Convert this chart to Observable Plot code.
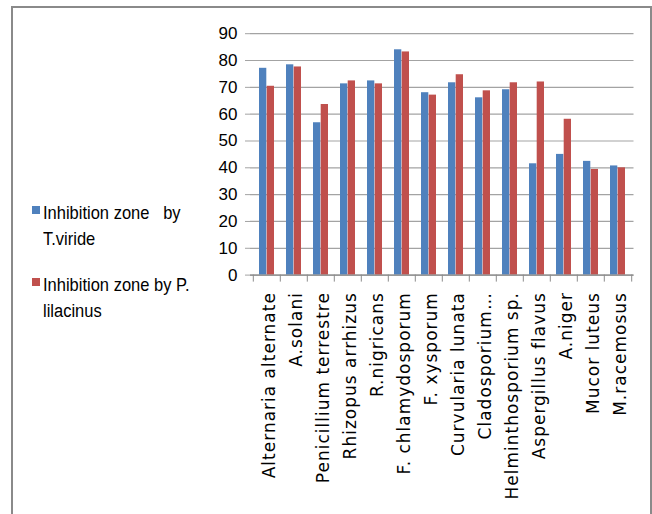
<!DOCTYPE html>
<html>
<head>
<meta charset="utf-8">
<script src="https://cdn.jsdelivr.net/npm/d3@7"></script>
<script src="https://cdn.jsdelivr.net/npm/@observablehq/plot@0.6"></script>
<style>
  body { margin: 0; background: #fff; }
  #wrap { position: relative; width: 652px; height: 514px; overflow: hidden; background: #fff; }
  #border { position: absolute; left: 11px; top: 6px; width: 637px; height: 530px;
            border: 2px solid #8a8a8a; border-bottom: none; pointer-events: none; }
  #chart { position: absolute; left: 0; top: 0; }
  #legend { position: absolute; left: 0; top: 0; font-family: "Liberation Sans", Arial, sans-serif;
            font-size: 16.5px; color: #000; }
  .item { position: absolute; left: 32px; }
  .sw { position: absolute; left: 0; top: 4.8px; width: 8px; height: 8px; }
  .lab { position: absolute; left: 11px; top: 0; white-space: pre; line-height: 23.2px;
         transform: scaleY(1.12); transform-origin: 0 17.3px; }
  svg [aria-label="x-axis tick label"] text { letter-spacing: 1px; }
</style>
</head>
<body>
<div id="wrap">
  <div id="chart"></div>
  <div id="legend"></div>
  <div id="border"></div>
</div>
<script>
// Fungal isolates tested
const categories = [
  "Alternaria alternate", "A.solani", "Penicillium terrestre", "Rhizopus arrhizus",
  "R.nigricans", "F. chlamydosporum", "F. xysporum", "Curvularia lunata",
  "Cladosporium…", "Helminthosporium sp.", "Aspergillus flavus", "A.niger",
  "Mucor luteus", "M.racemosus"
];
// Inhibition zone by T. viride
const viride = [77.1, 78.4, 56.8, 71.3, 72.4, 84.0, 68.0, 71.7, 66.1, 69.1, 41.5, 45.0, 42.4, 40.7];
// Inhibition zone by P. lilacinus
const lilacinus = [70.4, 77.6, 63.6, 72.4, 71.3, 83.2, 67.1, 74.7, 68.7, 71.7, 72.0, 58.1, 39.4, 40.0];
const seriesNames = ["Inhibition zone   by\nT.viride", "Inhibition zone by P.\nlilacinus"];
const seriesColors = ["#4f81bd", "#c0504d"];
const yTicks = [0, 10, 20, 30, 40, 50, 60, 70, 80, 90];

const W = 652, H = 514;
const mLeft = 250, mRight = 18.5, mTop = 33.2, mBottom = 239.4;
const step = (W - mLeft - mRight) / categories.length;

const rows = categories.flatMap((c, i) => [
  {category: c, series: seriesNames[0], value: viride[i]},
  {category: c, series: seriesNames[1], value: lilacinus[i]}
]);

const gridColor = "#a3a3a3";
const axisColor = "#8c8c8c";

const chart = Plot.plot({
  width: W,
  height: H,
  marginLeft: mLeft,
  marginRight: mRight,
  marginTop: mTop,
  marginBottom: mBottom,
  style: {background: "transparent", overflow: "visible"},
  x: {type: "band", domain: categories, padding: 0},
  y: {domain: [0, 90]},
  color: {domain: seriesNames, range: seriesColors},
  marks: [
    Plot.gridY(yTicks, {stroke: gridColor, strokeOpacity: 1, strokeWidth: 1.2}),
    Plot.axisY(yTicks, {
      tickSize: 5, tickPadding: 8, stroke: gridColor, fill: "#000",
      fontSize: 17, fontFamily: "Liberation Sans, Arial, sans-serif",
      label: null
    }),
    Plot.barY(rows.filter(d => d.series === seriesNames[0]), {
      x: "category", y: "value", fill: "series", insetLeft: 6, insetRight: 13.7
    }),
    Plot.barY(rows.filter(d => d.series === seriesNames[1]), {
      x: "category", y: "value", fill: "series", insetLeft: 13.7, insetRight: 6
    }),
    Plot.ruleY([0], {stroke: axisColor, strokeWidth: 1.3}),
    // category boundary ticks
    Plot.axisX({tickSize: 7, tickFormat: () => "", dx: -step / 2, stroke: axisColor, label: null}),
    Plot.axisX([categories[categories.length - 1]], {tickSize: 7, tickFormat: () => "", dx: step / 2, stroke: axisColor, label: null}),
    // rotated category labels
    Plot.axisX({
      tickSize: 0, tickPadding: 17, tickRotate: -90, dx: 3,
      fontSize: 17, fontFamily: "DejaVu Sans, sans-serif", fill: "#000", label: null
    })
  ]
});
document.getElementById("chart").appendChild(chart);

// legend on the left
const legend = document.getElementById("legend");
const itemTops = [201.7, 273.7];
seriesNames.forEach((name, i) => {
  const item = document.createElement("div");
  item.className = "item";
  item.style.top = itemTops[i] + "px";
  const sw = document.createElement("span");
  sw.className = "sw";
  sw.style.background = seriesColors[i];
  const lab = document.createElement("div");
  lab.className = "lab";
  lab.textContent = name;
  item.appendChild(sw);
  item.appendChild(lab);
  legend.appendChild(item);
});
</script>
</body>
</html>
